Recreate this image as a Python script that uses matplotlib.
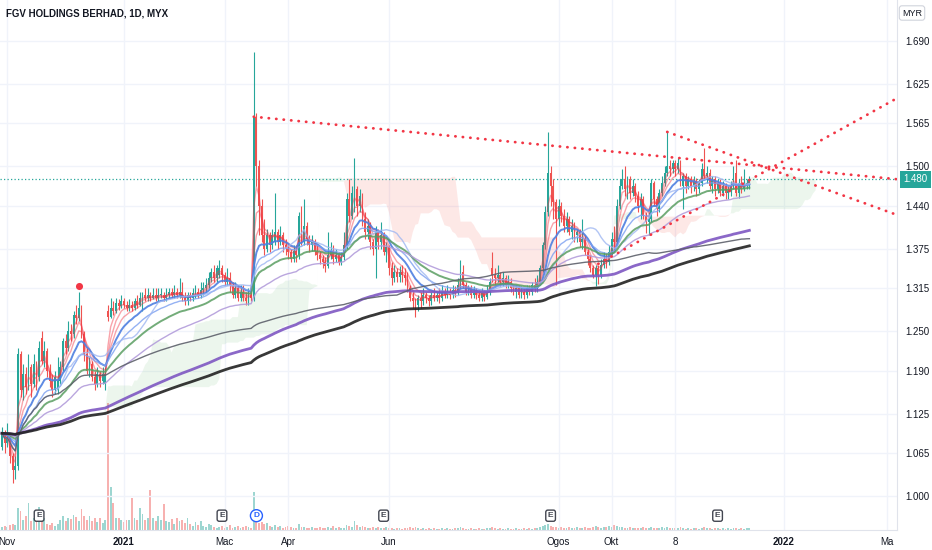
import matplotlib
matplotlib.use("Agg")
import matplotlib.pyplot     as plt
import matplotlib.transforms as mtransforms
import numpy                 as np
import pandas                as pd

# | Data |---------------------------------------------------------------------------------------------------------|
# daily bars, prices in 0.001 MYR
opens = [
    1075, 1095, 1080, 1090, 1060, 1040, 1045, 1215, 1160, 1185,
    1165, 1195, 1170, 1200, 1180, 1240, 1205, 1220, 1190, 1175,
    1160, 1160, 1175, 1195, 1235, 1225, 1250, 1245, 1275, 1270,
    1285, 1245, 1215, 1190, 1200, 1180, 1170, 1185, 1175, 1170,
    1280, 1272, 1285, 1280, 1292, 1288, 1295, 1290, 1285, 1290,
    1285, 1295, 1290, 1285, 1305, 1300, 1305, 1300, 1305, 1300,
    1305, 1305, 1300, 1305, 1310, 1305, 1310, 1305, 1310, 1300,
    1295, 1305, 1300, 1308, 1310, 1305, 1312, 1315, 1320, 1330,
    1340, 1330, 1335, 1345, 1335, 1325, 1330, 1320, 1305, 1315,
    1300, 1310, 1300, 1295, 1305, 1300, 1575, 1500, 1440, 1395,
    1375, 1395, 1380, 1385, 1400, 1385, 1395, 1380, 1375, 1370,
    1360, 1372, 1365, 1420, 1385, 1410, 1390, 1380, 1385, 1372,
    1365, 1360, 1355, 1348, 1365, 1372, 1360, 1365, 1355, 1362,
    1380, 1450, 1425, 1435, 1465, 1440, 1455, 1420, 1400, 1410,
    1385, 1375, 1400, 1385, 1395, 1370, 1378, 1345, 1330, 1340,
    1332, 1340, 1335, 1330, 1315, 1300, 1295, 1290, 1300, 1295,
    1305, 1300, 1295, 1305, 1300, 1305, 1300, 1310, 1305, 1310,
    1305, 1312, 1308, 1320, 1340, 1320, 1310, 1315, 1305, 1310,
    1305, 1300, 1308, 1302, 1310, 1345, 1335, 1330, 1335, 1325,
    1330, 1320, 1325, 1315, 1310, 1315, 1305, 1310, 1305, 1315,
    1310, 1320, 1315, 1325, 1345, 1380, 1430, 1490, 1470, 1445,
    1420, 1440, 1425, 1410, 1420, 1400, 1410, 1395, 1400, 1385,
    1390, 1370, 1360, 1345, 1335, 1345, 1335, 1350, 1360, 1355,
    1370, 1390, 1385, 1440, 1470, 1480, 1465, 1480, 1460, 1470,
    1455, 1440, 1450, 1425, 1415, 1420, 1475, 1450, 1435, 1460,
    1475, 1490, 1500, 1495, 1505, 1495, 1505, 1470, 1485, 1470,
    1480, 1470, 1478, 1465, 1475, 1495, 1485, 1490, 1470, 1480,
    1465, 1475, 1460, 1470, 1460, 1462, 1470, 1490, 1460, 1475,
    1465, 1470, 1475,
]
highs = [
    1105, 1100, 1110, 1095, 1065, 1060, 1225, 1220, 1200, 1195,
    1215, 1200, 1215, 1205, 1235, 1250, 1235, 1225, 1200, 1185,
    1190, 1210, 1205, 1240, 1245, 1265, 1260, 1280, 1290, 1310,
    1290, 1250, 1225, 1210, 1205, 1190, 1195, 1190, 1195, 1195,
    1290, 1300, 1295, 1300, 1298, 1305, 1300, 1295, 1298, 1295,
    1300, 1305, 1310, 1310, 1315, 1315, 1310, 1315, 1315, 1315,
    1315, 1310, 1315, 1315, 1315, 1320, 1315, 1330, 1325, 1310,
    1310, 1310, 1315, 1320, 1315, 1325, 1325, 1330, 1340, 1345,
    1350, 1350, 1358, 1350, 1340, 1345, 1340, 1325, 1325, 1320,
    1320, 1320, 1310, 1315, 1310, 1673, 1580, 1510, 1450, 1420,
    1405, 1400, 1405, 1460, 1405, 1410, 1400, 1390, 1380, 1375,
    1380, 1380, 1430, 1440, 1450, 1415, 1395, 1395, 1390, 1380,
    1372, 1365, 1362, 1400, 1385, 1380, 1375, 1370, 1370, 1400,
    1460, 1480, 1470, 1512, 1470, 1465, 1460, 1430, 1420, 1415,
    1390, 1410, 1405, 1415, 1400, 1385, 1380, 1355, 1350, 1345,
    1348, 1350, 1345, 1340, 1320, 1310, 1300, 1305, 1310, 1315,
    1310, 1305, 1310, 1315, 1310, 1315, 1320, 1315, 1320, 1315,
    1320, 1318, 1330, 1358, 1350, 1325, 1320, 1320, 1318, 1315,
    1312, 1315, 1312, 1320, 1330, 1370, 1345, 1350, 1340, 1340,
    1335, 1335, 1330, 1320, 1320, 1320, 1318, 1315, 1320, 1320,
    1325, 1330, 1335, 1350, 1385, 1440, 1552, 1500, 1480, 1450,
    1450, 1445, 1435, 1430, 1425, 1420, 1415, 1405, 1405, 1420,
    1395, 1375, 1365, 1350, 1350, 1350, 1360, 1370, 1368, 1380,
    1400, 1410, 1450, 1480, 1495, 1500, 1485, 1485, 1480, 1475,
    1462, 1460, 1455, 1430, 1430, 1480, 1478, 1455, 1465, 1485,
    1500, 1552, 1510, 1510, 1510, 1512, 1510, 1490, 1490, 1485,
    1485, 1485, 1482, 1480, 1505, 1528, 1500, 1495, 1485, 1485,
    1480, 1480, 1478, 1475, 1470, 1478, 1500, 1510, 1480, 1485,
    1495, 1480, 1485,
]
lows = [
    1070, 1065, 1075, 1050, 1020, 1025, 1040, 1150, 1145, 1155,
    1160, 1150, 1165, 1160, 1175, 1200, 1195, 1180, 1165, 1150,
    1155, 1155, 1170, 1190, 1215, 1220, 1235, 1240, 1260, 1265,
    1240, 1205, 1185, 1180, 1175, 1160, 1165, 1165, 1170, 1160,
    1265, 1270, 1275, 1278, 1282, 1285, 1285, 1280, 1280, 1280,
    1282, 1285, 1288, 1280, 1295, 1295, 1295, 1298, 1295, 1295,
    1300, 1295, 1295, 1300, 1300, 1300, 1300, 1300, 1295, 1290,
    1290, 1295, 1295, 1300, 1300, 1300, 1305, 1310, 1315, 1325,
    1325, 1325, 1330, 1325, 1320, 1320, 1310, 1300, 1300, 1295,
    1295, 1295, 1290, 1290, 1295, 1295, 1470, 1395, 1385, 1365,
    1370, 1370, 1375, 1380, 1375, 1380, 1370, 1365, 1360, 1355,
    1355, 1355, 1360, 1380, 1380, 1380, 1370, 1372, 1365, 1358,
    1352, 1345, 1340, 1345, 1360, 1352, 1355, 1350, 1350, 1358,
    1375, 1415, 1420, 1430, 1425, 1430, 1410, 1390, 1390, 1375,
    1365, 1330, 1375, 1375, 1365, 1355, 1335, 1320, 1325, 1325,
    1325, 1325, 1320, 1310, 1295, 1285, 1272, 1280, 1285, 1290,
    1292, 1288, 1290, 1295, 1295, 1292, 1295, 1300, 1300, 1298,
    1300, 1302, 1305, 1315, 1315, 1305, 1305, 1300, 1300, 1298,
    1295, 1295, 1296, 1298, 1305, 1325, 1320, 1325, 1318, 1318,
    1315, 1315, 1310, 1305, 1300, 1300, 1300, 1298, 1300, 1305,
    1305, 1310, 1310, 1320, 1340, 1375, 1425, 1440, 1420, 1320,
    1410, 1415, 1400, 1400, 1395, 1390, 1385, 1385, 1378, 1375,
    1365, 1350, 1340, 1330, 1318, 1322, 1330, 1345, 1345, 1350,
    1365, 1375, 1380, 1435, 1465, 1455, 1450, 1450, 1455, 1445,
    1430, 1420, 1420, 1398, 1395, 1415, 1440, 1425, 1430, 1455,
    1470, 1485, 1485, 1490, 1485, 1490, 1470, 1435, 1460, 1465,
    1460, 1462, 1455, 1460, 1470, 1480, 1475, 1465, 1460, 1455,
    1460, 1455, 1455, 1450, 1450, 1455, 1465, 1455, 1452, 1460,
    1462, 1465, 1465,
]
closes = [
    1095, 1080, 1090, 1060, 1040, 1045, 1215, 1160, 1185, 1165,
    1195, 1170, 1200, 1180, 1225, 1205, 1220, 1190, 1175, 1160,
    1180, 1175, 1195, 1235, 1225, 1250, 1245, 1275, 1270, 1285,
    1245, 1215, 1190, 1200, 1180, 1170, 1185, 1175, 1185, 1185,
    1272, 1285, 1280, 1292, 1288, 1295, 1290, 1285, 1290, 1285,
    1295, 1290, 1300, 1305, 1300, 1305, 1300, 1305, 1300, 1305,
    1305, 1300, 1305, 1310, 1305, 1310, 1305, 1310, 1300, 1295,
    1305, 1300, 1308, 1310, 1305, 1312, 1315, 1320, 1330, 1340,
    1330, 1345, 1345, 1335, 1325, 1330, 1320, 1305, 1315, 1300,
    1310, 1300, 1295, 1305, 1300, 1575, 1500, 1440, 1395, 1375,
    1395, 1380, 1395, 1400, 1385, 1395, 1380, 1375, 1370, 1360,
    1372, 1365, 1425, 1385, 1410, 1390, 1380, 1385, 1372, 1365,
    1360, 1355, 1348, 1365, 1372, 1360, 1365, 1355, 1362, 1380,
    1450, 1425, 1460, 1465, 1440, 1455, 1420, 1400, 1410, 1385,
    1375, 1400, 1385, 1395, 1370, 1378, 1345, 1330, 1340, 1332,
    1340, 1335, 1330, 1315, 1300, 1295, 1290, 1300, 1295, 1305,
    1300, 1295, 1305, 1300, 1305, 1300, 1310, 1305, 1310, 1305,
    1312, 1308, 1320, 1340, 1320, 1310, 1315, 1305, 1310, 1305,
    1300, 1308, 1302, 1310, 1325, 1335, 1330, 1335, 1325, 1330,
    1320, 1325, 1315, 1310, 1315, 1305, 1310, 1305, 1315, 1310,
    1320, 1315, 1325, 1345, 1380, 1430, 1490, 1470, 1445, 1420,
    1440, 1425, 1410, 1420, 1400, 1410, 1395, 1400, 1385, 1390,
    1370, 1360, 1345, 1335, 1345, 1335, 1350, 1360, 1355, 1370,
    1390, 1385, 1440, 1470, 1480, 1465, 1480, 1460, 1470, 1455,
    1440, 1450, 1425, 1415, 1420, 1475, 1450, 1435, 1460, 1475,
    1490, 1500, 1495, 1505, 1495, 1505, 1480, 1485, 1470, 1480,
    1470, 1478, 1465, 1475, 1495, 1485, 1490, 1470, 1480, 1465,
    1475, 1460, 1470, 1460, 1462, 1470, 1490, 1460, 1475, 1465,
    1470, 1475, 1480,
]
# volume, relative units
volumes = [
    3, 4, 3, 5, 6, 5, 22, 19, 10, 14,
    27, 9, 12, 14, 23, 15, 12, 6, 5, 7,
    4, 6, 10, 14, 9, 12, 11, 15, 13, 9,
    21, 14, 10, 14, 9, 12, 8, 12, 7, 10,
    128, 43, 27, 12, 12, 10, 8, 10, 10, 32,
    12, 10, 22, 16, 10, 12, 40, 12, 9, 14,
    10, 26, 9, 8, 11, 6, 12, 9, 10, 7,
    12, 6, 4, 8, 5, 9, 4, 3, 6, 5,
    3, 2, 3, 4, 2, 3, 5, 2, 3, 4,
    2, 3, 4, 3, 2, 38, 9, 7, 8, 6,
    7, 4, 3, 5, 3, 4, 2, 3, 4, 3,
    2, 2, 6, 3, 3, 2, 2, 3, 2, 2,
    3, 2, 2, 3, 2, 4, 2, 3, 2, 2,
    5, 4, 3, 9, 5, 3, 4, 3, 2, 2,
    3, 2, 3, 2, 2, 3, 2, 2, 1, 2,
    2, 1, 2, 2, 3, 2, 3, 2, 1, 2,
    1, 2, 1, 2, 1, 1, 2, 1, 2, 1,
    1, 2, 2, 3, 2, 1, 1, 2, 1, 1,
    2, 1, 1, 2, 2, 3, 2, 1, 2, 1,
    1, 2, 1, 1, 2, 1, 1, 2, 1, 2,
    1, 2, 2, 3, 4, 5, 6, 4, 3, 3,
    2, 3, 2, 2, 3, 2, 2, 3, 2, 2,
    3, 2, 2, 3, 4, 3, 2, 3, 3, 4,
    3, 5, 4, 3, 3, 2, 2, 3, 2, 2,
    2, 2, 3, 2, 2, 3, 2, 2, 2, 3,
    2, 3, 2, 2, 2, 2, 3, 2, 1, 2,
    1, 2, 2, 1, 2, 3, 2, 2, 1, 2,
    2, 1, 2, 1, 2, 1, 2, 2, 1, 2,
    1, 2, 2,
]

price_ticks = [1.000, 1.065, 1.125, 1.190, 1.250, 1.315, 1.375, 1.440, 1.500, 1.565, 1.625, 1.690]
date_ticks  = [2, 46, 84, 108, 146, 210, 230, 254, 295, 334]
date_labels = ["Nov", "2021", "Mac", "Apr", "Jun", "Ogos", "Okt", "8", "2022", "Ma"]
year_labels = {"2021", "2022"}

earnings_bars = [14, 83, 144, 207, 270]
dividend_bars = [96]
pivot_bars    = [29]

# drawn trendlines, (bar, price) anchors, extended to the right
trend_lines = [
    ((95, 1.575), (282, 1.502)),
    ((251, 1.552), (282, 1.507)),
    ((225, 1.352), (282, 1.479)),
]

# (kind, period, color, linewidth, alpha)
ma_specs = [
    ("ema", 3,   "#f23645", 1.0, 0.45),
    ("ema", 5,   "#f23645", 1.0, 0.45),
    ("ema", 8,   "#f23645", 1.0, 0.45),
    ("ema", 13,  "#4e7fe0", 1.4, 0.9),
    ("ema", 21,  "#7b9ff0", 1.0, 0.8),
    ("sma", 20,  "#9fb7f2", 1.0, 0.8),
    ("ema", 34,  "#5a9e62", 1.4, 0.85),
    ("ema", 55,  "#b39ddb", 1.0, 0.9),
    ("ema", 150, "#7e57c2", 2.0, 0.9),
    ("sma", 150, "#5d606b", 1.0, 0.9),
    ("ema", 200, "#222222", 2.0, 0.9),
]
# |----------------------------------------------------------------------------------------------------------------|

UP, DOWN   = "#26a69a", "#ef5350"
TEXT       = "#131722"
GRID       = "#f0f3fa"
LINE       = "#e0e3eb"
TREND      = "#f23645"

plt.rcParams["font.family"] = ["Liberation Sans", "DejaVu Sans"]

o = np.array(opens) / 1000
h = np.array(highs) / 1000
l = np.array(lows) / 1000
c = np.array(closes) / 1000
v = np.array(volumes, dtype=float)
n = len(c)
idx = np.arange(n)
is_up = c >= o
colors = np.where(is_up, UP, DOWN)

W, H = 932, 550
fig = plt.figure(figsize=(W / 100, H / 100), dpi=100)
rect = [0, 20 / H, 897 / W, 530 / H]
ax_vol = fig.add_axes(rect)
ax = fig.add_axes(rect, sharex=ax_vol)
ax.set_zorder(2)
ax.patch.set_visible(False)

x_left, x_right = -0.75, 337.7
ax.set_xlim(x_left, x_right)
ax.set_ylim(0.9484, 1.752)

# volume pane
ax_vol.bar(idx, v, width=0.7, color=colors, alpha=0.45, linewidth=0)
ax_vol.set_ylim(0, v.max() / 0.24)
ax_vol.axis("off")

# ichimoku cloud
hs, ls = pd.Series(h), pd.Series(l)
tenkan = (hs.rolling(9, min_periods=1).max() + ls.rolling(9, min_periods=1).min()) / 2
kijun  = (hs.rolling(26, min_periods=1).max() + ls.rolling(26, min_periods=1).min()) / 2
span_a = ((tenkan + kijun) / 2).to_numpy()
span_b = ((hs.rolling(52, min_periods=1).max() + ls.rolling(52, min_periods=1).min()) / 2).to_numpy()
xc = idx + 25
ax.fill_between(xc, span_a, span_b, where=span_a >= span_b, interpolate=True,
                color="#4caf50", alpha=0.1, linewidth=0, zorder=1)
ax.fill_between(xc, span_a, span_b, where=span_a < span_b, interpolate=True,
                color="#f44336", alpha=0.12, linewidth=0, zorder=1)

# candles
ax.vlines(idx, l, h, colors=colors, linewidth=0.8, zorder=3)
ax.bar(idx, np.maximum(np.abs(c - o), 0.0015), bottom=np.minimum(o, c),
       width=0.7, color=colors, linewidth=0, zorder=3)

# moving averages
cs = pd.Series(c)
for kind, period, color, lw, alpha in ma_specs:
    if kind == "ema":
        line = cs.ewm(span=period, adjust=False).mean()
    else:
        line = cs.rolling(period, min_periods=1).mean()
    ax.plot(idx, line, color=color, linewidth=lw, alpha=alpha, zorder=4)

# trendlines
for (x0, y0), (x1, y1) in trend_lines:
    slope = (y1 - y0) / (x1 - x0)
    ax.plot([x0, x_right], [y0, y0 + slope * (x_right - x0)], color=TREND,
            linewidth=2, linestyle=(0, (0.1, 2.6)), dash_capstyle="round", zorder=5)

# pivot marker
for b in pivot_bars:
    ax.scatter([b], [h[b] + 0.008], s=26, color=TREND, zorder=6, linewidths=0)

# last price line + label
last = c[-1]
ax.axhline(last, color=UP, linewidth=0.9, linestyle=(0, (1, 1.8)), zorder=2)
blend = mtransforms.blended_transform_factory(ax.transAxes, ax.transData)
ax.text(1.0 + 6 / 897, last, f"{last:.3f}", transform=blend, ha="left", va="center",
        fontsize=7, color="white", clip_on=False, zorder=10,
        bbox=dict(boxstyle="square,pad=0.35", fc=UP, ec="none"))

# earnings / dividend events
ev = mtransforms.blended_transform_factory(ax.transData, ax.transAxes)
for b in earnings_bars:
    ax.text(b, 0.027, "E", transform=ev, ha="center", va="center", fontsize=6,
            color="#434651", fontweight="bold", zorder=7,
            bbox=dict(boxstyle="round,pad=0.25", fc="white", ec="#434651", lw=1))
for b in dividend_bars:
    ax.text(b, 0.027, "D", transform=ev, ha="center", va="center", fontsize=6,
            color="#2962ff", fontweight="bold", zorder=7,
            bbox=dict(boxstyle="circle,pad=0.3", fc="white", ec="#2962ff", lw=1))

# axes styling
ax.yaxis.tick_right()
ax.set_yticks(price_ticks, [f"{p:.3f}" for p in price_ticks])
ax.set_xticks(date_ticks, date_labels)
ax.tick_params(axis="y", length=0, pad=6, labelsize=7, colors=TEXT)
ax.tick_params(axis="x", length=0, pad=5, labelsize=7, colors=TEXT)
for lab in ax.get_xticklabels():
    if lab.get_text() in year_labels:
        lab.set_fontweight("bold")
ax.grid(True, color=GRID, linewidth=1)
ax.set_axisbelow(True)
for side in ("top", "left"):
    ax.spines[side].set_visible(False)
for side in ("bottom", "right"):
    ax.spines[side].set_color(LINE)

fig.text(6 / W, 1 - 14 / H, "FGV HOLDINGS BERHAD, 1D, MYX", fontsize=7, fontweight="bold",
         color=TEXT, va="center", ha="left")
fig.text(912 / W, 1 - 13 / H, "MYR", fontsize=6.5, color=TEXT, ha="center", va="center",
         bbox=dict(boxstyle="round,pad=0.3", fc="white", ec="#d1d4dc", lw=0.8))

fig.savefig("out.png", dpi=100, facecolor="white")
